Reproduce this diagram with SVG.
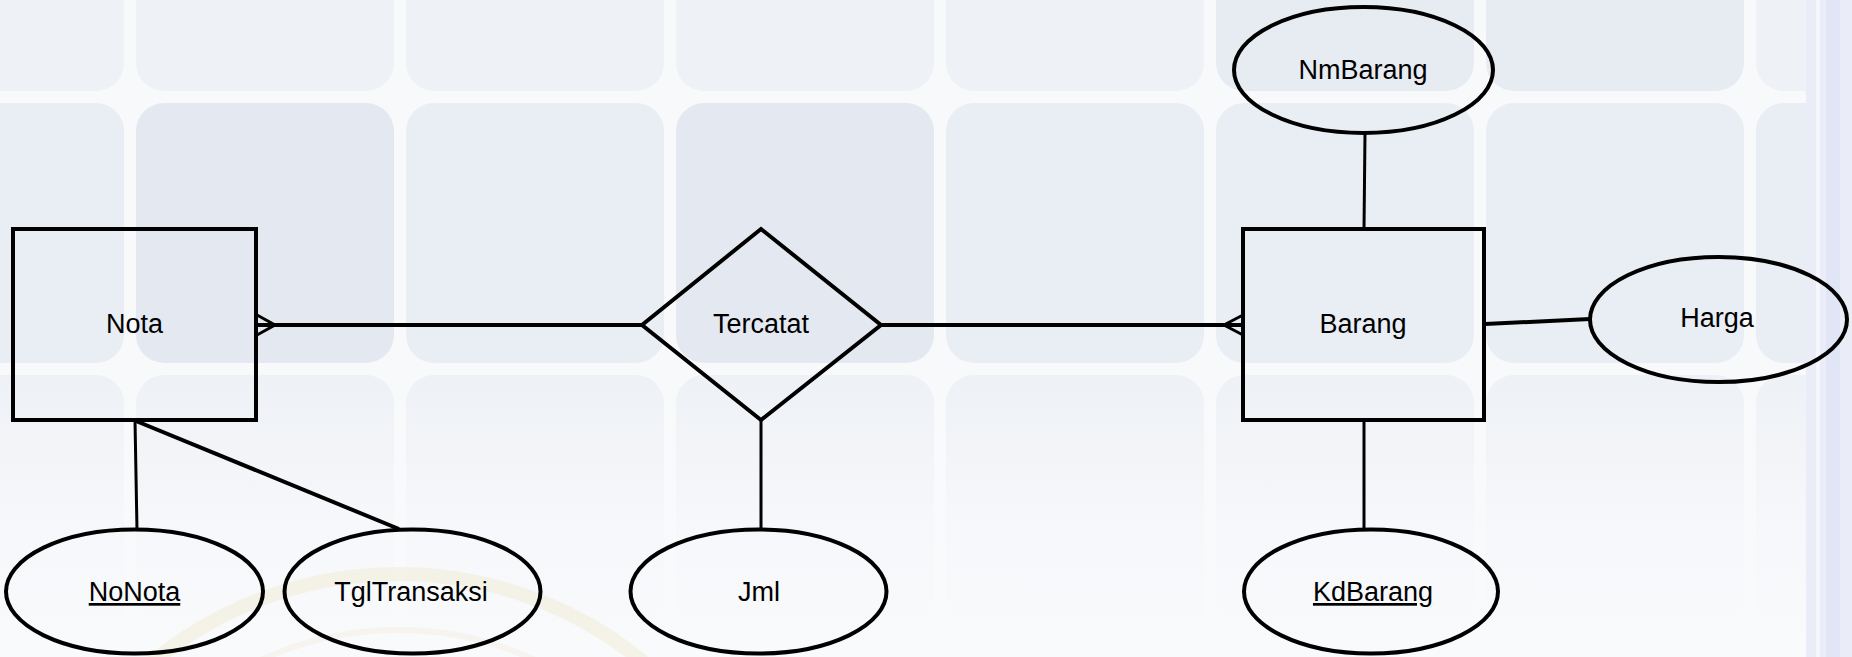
<svg xmlns="http://www.w3.org/2000/svg" width="1852" height="657" viewBox="0 0 1852 657">
  <defs>
    <style>
      .tile { rx: 28px; ry: 28px; }
      .t1 { fill: #eef1f6; }
      .t1d { fill: #e7ebf2; }
      .t2 { fill: #e9edf4; }
      .t2d { fill: #e4e9f1; }
      .t3 { fill: #edf0f5; }
      .shape { fill: none; stroke: #000; stroke-width: 4; }
      .conn { fill: none; stroke: #000; stroke-width: 3; stroke-linecap: butt; }
      .rel { fill: none; stroke: #000; stroke-width: 4; }
      .lbl { font-family: "Liberation Sans", Arial, sans-serif; font-size: 27px; fill: #000; text-anchor: middle; }
      .key { text-decoration: underline; }
    </style>
    <linearGradient id="fade" x1="0" y1="0" x2="0" y2="1">
      <stop offset="0" stop-color="#f9fafc" stop-opacity="0"/>
      <stop offset="0.55" stop-color="#f9fafc" stop-opacity="0.75"/>
      <stop offset="1" stop-color="#f9fafc" stop-opacity="1"/>
    </linearGradient>
  </defs>

  <!-- background -->
  <g id="background">
    <rect x="0" y="0" width="1852" height="657" fill="#f8f9fb"/>
    <!-- row 1 -->
    <rect class="tile t1" x="-134" y="-170" width="258" height="261"/>
    <rect class="tile t1" x="136" y="-170" width="258" height="261"/>
    <rect class="tile t1" x="406" y="-170" width="258" height="261"/>
    <rect class="tile t1" x="676" y="-170" width="258" height="261"/>
    <rect class="tile t1" x="946" y="-170" width="258" height="261"/>
    <rect class="tile t1d" x="1216" y="-170" width="258" height="261"/>
    <rect class="tile t1d" x="1486" y="-170" width="258" height="261"/>
    <rect class="tile t1" x="1756" y="-170" width="258" height="261"/>
    <!-- row 2 -->
    <rect class="tile t2" x="-134" y="103" width="258" height="260"/>
    <rect class="tile t2d" x="136" y="103" width="258" height="260"/>
    <rect class="tile t2" x="406" y="103" width="258" height="260"/>
    <rect class="tile t2d" x="676" y="103" width="258" height="260"/>
    <rect class="tile t2" x="946" y="103" width="258" height="260"/>
    <rect class="tile t2" x="1216" y="103" width="258" height="260"/>
    <rect class="tile t2" x="1486" y="103" width="258" height="260"/>
    <rect class="tile t2" x="1756" y="103" width="258" height="260"/>
    <!-- row 3 -->
    <rect class="tile t3" x="-134" y="375" width="258" height="260"/>
    <rect class="tile t3" x="136" y="375" width="258" height="260"/>
    <rect class="tile t3" x="406" y="375" width="258" height="260"/>
    <rect class="tile t3" x="676" y="375" width="258" height="260"/>
    <rect class="tile t3" x="946" y="375" width="258" height="260"/>
    <rect class="tile t3" x="1216" y="375" width="258" height="260"/>
    <rect class="tile t3" x="1486" y="375" width="258" height="260"/>
    <rect class="tile t3" x="1756" y="375" width="258" height="260"/>
    <rect x="0" y="360" width="1852" height="297" fill="url(#fade)"/>
    <!-- faint watermark seal -->
    <circle cx="398" cy="960" r="386" fill="none" stroke="#efe4c4" stroke-width="14" opacity="0.35"/>
    <circle cx="398" cy="960" r="330" fill="none" stroke="#f1e8cf" stroke-width="6" opacity="0.3"/>
    <!-- right edge stripes -->
    <rect x="1806" y="0" width="46" height="657" fill="#eaedf8"/>
    <rect x="1816" y="0" width="4" height="657" fill="#f6f7fc"/>
    <rect x="1826" y="0" width="14" height="657" fill="#e1e6f6"/>
  </g>

  <!-- connectors -->
  <g id="connectors">
    <line class="rel" x1="256" y1="325" x2="642" y2="325"/>
    <polyline class="conn" points="257,315 275,325 257,335"/>
    <line class="rel" x1="881" y1="325" x2="1243" y2="325"/>
    <polyline class="conn" points="1243,315 1224,325 1243,335"/>
    <line class="conn" x1="1365" y1="133" x2="1364" y2="229"/>
    <line class="rel" x1="1485" y1="324" x2="1590" y2="319"/>
    <line class="conn" x1="1364" y1="420" x2="1364" y2="529"/>
    <line class="conn" x1="761" y1="420" x2="761" y2="529"/>
    <line class="conn" x1="135" y1="420" x2="137" y2="530"/>
    <line class="rel" x1="136" y1="421" x2="399" y2="529"/>
  </g>

  <!-- nodes -->
  <g id="node-nota">
    <rect class="shape" x="13" y="229" width="243" height="191"/>
    <text class="lbl" x="134.5" y="333">Nota</text>
  </g>
  <g id="node-tercatat">
    <polygon class="shape" points="761,229 881,325 761,420 642,325"/>
    <text class="lbl" x="761" y="333">Tercatat</text>
  </g>
  <g id="node-barang">
    <rect class="shape" x="1243" y="229" width="241" height="191"/>
    <text class="lbl" x="1363" y="333">Barang</text>
  </g>
  <g id="node-nmbarang">
    <ellipse class="shape" cx="1363.5" cy="70" rx="129.5" ry="63"/>
    <text class="lbl" x="1363" y="79">NmBarang</text>
  </g>
  <g id="node-harga">
    <ellipse class="shape" cx="1718.5" cy="319.5" rx="128.5" ry="62.5"/>
    <text class="lbl" x="1717" y="327">Harga</text>
  </g>
  <g id="node-kdbarang">
    <ellipse class="shape" cx="1371" cy="591.5" rx="127" ry="62"/>
    <text class="lbl key" x="1373" y="601">KdBarang</text>
  </g>
  <g id="node-jml">
    <ellipse class="shape" cx="758.5" cy="591.5" rx="128" ry="62"/>
    <text class="lbl" x="759" y="601">Jml</text>
  </g>
  <g id="node-nonota">
    <ellipse class="shape" cx="134.5" cy="591.5" rx="128.5" ry="62"/>
    <text class="lbl key" x="134.5" y="601">NoNota</text>
  </g>
  <g id="node-tgltransaksi">
    <ellipse class="shape" cx="412.5" cy="591.5" rx="128" ry="62"/>
    <text class="lbl" x="411" y="601">TglTransaksi</text>
  </g>
</svg>
